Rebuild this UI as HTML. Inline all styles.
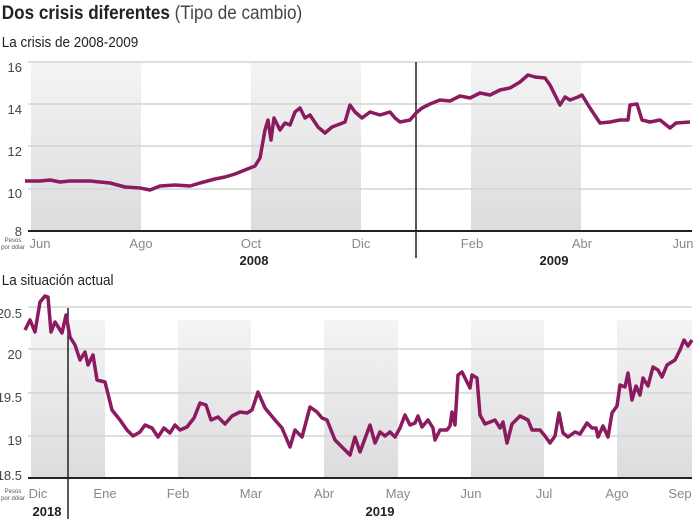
<!DOCTYPE html>
<html><head><meta charset="utf-8"><style>
body{margin:0;background:#fff;width:700px;height:519px;overflow:hidden;font-family:"Liberation Sans",sans-serif}
svg text{font-family:"Liberation Sans",sans-serif}
</style></head><body>
<svg width="700" height="519" viewBox="0 0 700 519">
<defs>
<linearGradient id="g" x1="0" y1="0" x2="0" y2="1"><stop offset="0" stop-color="#f4f4f4"/><stop offset="1" stop-color="#dcdcdf"/></linearGradient>
</defs>
<text x="2" y="19" font-size="19" font-weight="bold" fill="#222" transform="scale(0.9,1)">Dos crisis diferentes <tspan font-weight="normal" fill="#444">(Tipo de cambio)</tspan></text>
<text x="2" y="47" font-size="15" fill="#222" transform="scale(0.9,1)">La crisis de 2008-2009</text>
<!-- top bands -->
<rect x="31" y="62" width="110" height="169" fill="url(#g)"/>
<rect x="251" y="62" width="110" height="169" fill="url(#g)"/>
<rect x="471" y="62" width="110" height="169" fill="url(#g)"/>
<g stroke="#d4d4d4" stroke-width="1.5">
<line x1="28" y1="62" x2="692" y2="62"/><line x1="28" y1="104" x2="692" y2="104"/><line x1="28" y1="146" x2="692" y2="146"/><line x1="28" y1="189" x2="692" y2="189"/>
</g>
<line x1="28" y1="231" x2="692" y2="231" stroke="#222" stroke-width="2"/>
<line x1="416" y1="62" x2="416" y2="258" stroke="#222" stroke-width="1.5"/>
<g font-size="13" fill="#444" text-anchor="end">
<text x="22" y="72">16</text><text x="22" y="114">14</text><text x="22" y="156">12</text><text x="22" y="198">10</text><text x="22" y="236">8</text>
</g>
<g font-size="13" fill="#888" text-anchor="middle">
<text x="40" y="248">Jun</text><text x="141" y="248">Ago</text><text x="251" y="248">Oct</text><text x="361" y="248">Dic</text><text x="472" y="248">Feb</text><text x="582" y="248">Abr</text><text x="683" y="248">Jun</text>
</g>
<g font-size="13" font-weight="bold" fill="#222" text-anchor="middle"><text x="254" y="265">2008</text><text x="554" y="265">2009</text></g>
<g font-size="6" fill="#555" text-anchor="middle"><text x="13" y="242">Pesos</text><text x="13" y="249">por dólar</text></g>
<polyline fill="none" stroke="#8b1a5e" stroke-width="3.5" stroke-linejoin="round" points="25,181 40,181 50,180 60,182 70,181 90,181 110,183 125,187 140,188 150,190 160,186 175,185 190,186 200,183 215,179 225,177 235,174 245,170 255,166 260,158 265,130 268,120 271,140 274,118 280,130 285,123 290,125 295,112 300,108 305,118 310,115 318,127 325,133 332,127 340,124 345,122 350,105 355,112 362,118 370,112 380,115 390,112 395,118 400,122 410,120 416,113 422,108 430,104 440,100 450,101 460,96 470,98 480,93 490,95 500,90 510,88 520,82 528,75 535,77 545,78 550,85 555,95 560,105 565,97 570,100 578,97 582,95 590,108 600,123 610,122 620,120 628,120 630,105 637,104 642,120 650,122 660,120 670,128 676,123 690,122"/>

<text x="2" y="285" font-size="15" fill="#222" transform="scale(0.9,1)">La situación actual</text>
<rect x="31" y="320" width="74" height="158" fill="url(#g)"/>
<rect x="178" y="320" width="73" height="158" fill="url(#g)"/>
<rect x="324" y="320" width="74" height="158" fill="url(#g)"/>
<rect x="471" y="320" width="73" height="158" fill="url(#g)"/>
<rect x="617" y="320" width="75" height="158" fill="url(#g)"/>
<g stroke="#d4d4d4" stroke-width="1.5">
<line x1="28" y1="307" x2="692" y2="307"/><line x1="28" y1="349" x2="692" y2="349"/><line x1="28" y1="393" x2="692" y2="393"/><line x1="28" y1="436" x2="692" y2="436"/>
</g>
<line x1="28" y1="478" x2="692" y2="478" stroke="#222" stroke-width="2"/>
<line x1="68" y1="308" x2="68" y2="519" stroke="#222" stroke-width="1.5"/>
<g font-size="13" fill="#444" text-anchor="end">
<text x="22" y="318">20.5</text><text x="22" y="359">20</text><text x="22" y="402">19.5</text><text x="22" y="445">19</text><text x="22" y="480">18.5</text>
</g>
<g font-size="13" fill="#888" text-anchor="middle">
<text x="38" y="498">Dic</text><text x="105" y="498">Ene</text><text x="178" y="498">Feb</text><text x="251" y="498">Mar</text><text x="324" y="498">Abr</text><text x="398" y="498">May</text><text x="471" y="498">Jun</text><text x="544" y="498">Jul</text><text x="617" y="498">Ago</text><text x="680" y="498">Sep</text>
</g>
<g font-size="13" font-weight="bold" fill="#222" text-anchor="middle"><text x="47" y="516">2018</text><text x="380" y="516">2019</text></g>
<g font-size="6" fill="#555" text-anchor="middle"><text x="13" y="493">Pesos</text><text x="13" y="500">por dólar</text></g>
<polyline fill="none" stroke="#8b1a5e" stroke-width="3.5" stroke-linejoin="round" points="25,330 30,320 35,332 40,302 45,296 48,297 51,332 55,322 62,333 66,315 70,337 75,345 80,360 85,352 88,365 93,355 97,380 105,382 112,410 120,420 127,430 133,436 140,432 145,425 152,428 158,437 164,428 170,433 175,425 180,430 187,427 194,418 200,403 206,405 211,420 218,417 225,424 232,416 240,412 247,413 252,410 258,392 265,408 275,420 282,428 290,447 295,430 302,437 310,407 317,412 322,418 327,420 335,440 342,447 350,455 355,437 360,452 370,425 375,443 380,432 385,436 390,432 395,437 400,428 405,415 410,425 415,423 418,416 422,427 428,420 433,428 435,440 440,430 447,430 450,426 452,412 455,425 458,375 462,372 470,388 472,375 477,378 480,415 485,424 495,420 500,428 503,422 507,443 512,424 520,416 528,420 532,430 540,430 545,436 550,443 555,436 559,413 563,433 568,437 575,432 580,434 587,423 592,428 596,428 598,437 603,426 608,437 612,413 617,406 620,385 625,387 628,373 632,400 636,386 640,395 643,378 648,386 653,367 658,370 662,377 667,365 675,360 680,350 684,340 688,346 692,340"/>
</svg>
</body></html>
